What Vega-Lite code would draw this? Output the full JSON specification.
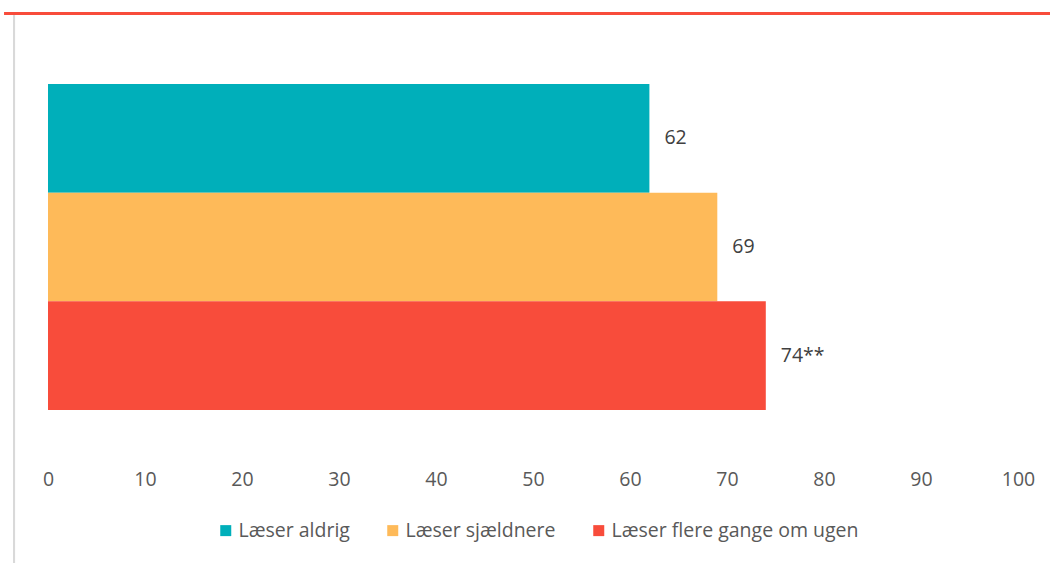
{
  "$schema": "https://vega.github.io/schema/vega-lite/v6.json",
  "width": 970,
  "height": 436.5,
  "autosize": {"type": "none"},
  "padding": {"left": 48, "top": 13.5, "right": 32, "bottom": 113},
  "background": "white",
  "config": {
    "view": {"stroke": null},
    "font": "Open Sans",
    "axisX": {"domain": false, "ticks": false, "grid": false, "labelFlush": false, "labelFontSize": 19.5, "labelColor": "#595959", "labelPadding": 20, "labelFont": "Open Sans"}
  },
  "data": {
    "values": [
      {"group": "Læser aldrig", "value": 62, "label": "62"},
      {"group": "Læser sjældnere", "value": 69, "label": "69"},
      {"group": "Læser flere gange om ugen", "value": 74, "label": "74**"}
    ]
  },
  "resolve": {"scale": {"y": "independent"}},
  "layer": [
    {
      "mark": {"type": "bar"},
      "encoding": {
        "y": {"field": "group", "type": "nominal", "sort": null, "scale": {"type": "band", "paddingInner": 0, "paddingOuter": 0.508, "align": 0.638}, "axis": null},
        "x": {"field": "value", "type": "quantitative", "title": null, "scale": {"domain": [0, 100]}, "axis": {"values": [0, 10, 20, 30, 40, 50, 60, 70, 80, 90, 100]}},
        "color": {
          "field": "group", "type": "nominal", "sort": null,
          "scale": {"domain": ["Læser aldrig", "Læser sjældnere", "Læser flere gange om ugen"], "range": ["#00AFBA", "#FEBA59", "#F84C3B"]},
          "legend": {"orient": "none", "legendX": 168, "legendY": 507, "direction": "horizontal", "title": null, "symbolType": "square", "symbolSize": 121, "symbolStrokeWidth": 0, "labelFontSize": 19.5, "labelColor": "#595959", "labelFont": "Open Sans", "labelLimit": 400, "columnPadding": 33, "labelOffset": 3}
        }
      }
    },
    {
      "mark": {"type": "text", "align": "left", "baseline": "middle", "dx": 15, "fontSize": 19.5, "color": "#404040", "font": "Open Sans"},
      "encoding": {
        "y": {"field": "group", "type": "nominal", "sort": null, "bandPosition": 0.5, "scale": {"type": "band", "paddingInner": 0, "paddingOuter": 0.508, "align": 0.638}, "axis": null},
        "x": {"field": "value", "type": "quantitative", "title": null, "scale": {"domain": [0, 100]}},
        "text": {"field": "label"}
      }
    },
    {
      "mark": {"type": "rule", "color": "#F84C3B", "strokeWidth": 3},
      "encoding": {
        "x": {"datum": -4.5, "type": "quantitative", "title": null, "scale": {"domain": [0, 100]}},
        "x2": {"datum": 104},
        "y": {"datum": 1, "type": "quantitative", "scale": {"domain": [0, 1]}, "axis": null}
      }
    },
    {
      "mark": {"type": "rule", "color": "#D9D9D9", "strokeWidth": 2},
      "encoding": {
        "x": {"datum": -3.5, "type": "quantitative", "title": null, "scale": {"domain": [0, 100]}},
        "y": {"datum": 0.996, "type": "quantitative", "scale": {"domain": [0, 1]}, "axis": null},
        "y2": {"datum": -0.27}
      }
    }
  ]
}
